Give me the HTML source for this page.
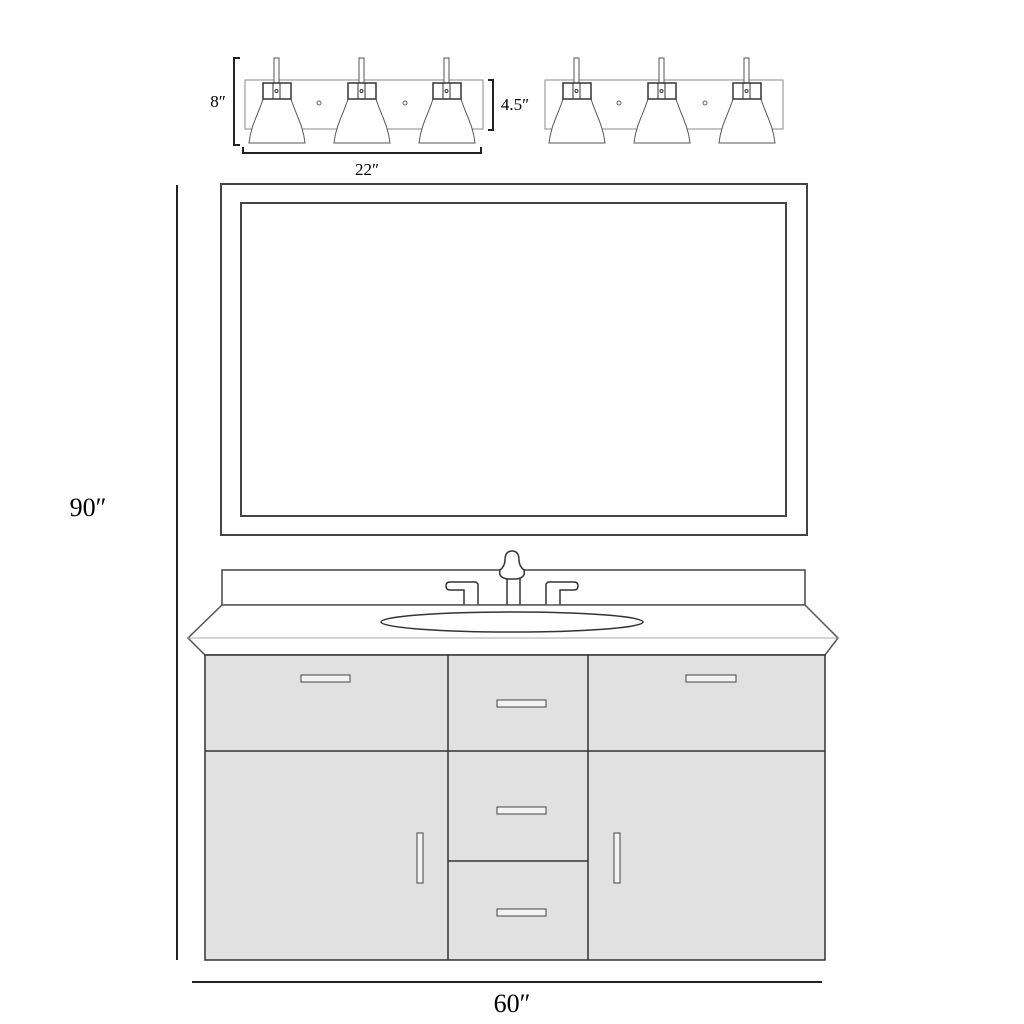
<!DOCTYPE html>
<html><head><style>html,body{margin:0;padding:0;background:#fff}svg{display:block}</style></head>
<body>
<svg width="1024" height="1024" viewBox="0 0 1024 1024" xmlns="http://www.w3.org/2000/svg" font-family="Liberation Serif, serif">
<rect width="1024" height="1024" fill="#fff"/>
<defs>
<g id="fix">
  <rect x="245" y="80" width="238" height="49" fill="#fff" stroke="#888" stroke-width="1"/>
  <circle cx="319" cy="103" r="2" fill="none" stroke="#666"/>
  <circle cx="405" cy="103" r="2" fill="none" stroke="#666"/>
  <g id="lamp">
    <rect x="274" y="58" width="5" height="26" fill="#fff" stroke="#555" stroke-width="1"/>
    <path d="M263,99 C258,115 251,125 249,143 L305,143 C303,125 296,115 291,99 Z" fill="#fff" stroke="#555" stroke-width="1"/>
    <rect x="263" y="83" width="28" height="16" fill="#fff" stroke="#333" stroke-width="1.5"/>
    <rect x="273" y="83" width="7" height="16" fill="none" stroke="#333" stroke-width="1"/>
    <circle cx="276.5" cy="91" r="1.5" fill="none" stroke="#333"/>
  </g>
  <use href="#lamp" x="85"/>
  <use href="#lamp" x="170"/>
</g>
</defs>
<use href="#fix"/>
<use href="#fix" x="300"/>
<!-- dimension brackets -->
<g stroke="#222" stroke-width="2" fill="none">
  <path d="M240,58 L234,58 L234,145 L240,145"/>
  <path d="M488,80 L493,80 L493,130 L488,130"/>
  <path d="M243,147 L243,153 L481,153 L481,147"/>
  <line x1="177" y1="185" x2="177" y2="960"/>
  <line x1="192" y1="982" x2="822" y2="982"/>
</g>
<text x="218" y="107" font-size="17" text-anchor="middle">8″</text>
<text x="515" y="110" font-size="17" text-anchor="middle">4.5″</text>
<text x="367" y="175" font-size="17" text-anchor="middle">22″</text>
<text x="88" y="516" font-size="26" text-anchor="middle">90″</text>
<text x="512" y="1012" font-size="26" text-anchor="middle">60″</text>
<!-- mirror -->
<rect x="221" y="184" width="586" height="351" fill="#fff" stroke="#444" stroke-width="2"/>
<rect x="241" y="203" width="545" height="313" fill="#fff" stroke="#444" stroke-width="2"/>
<!-- backsplash -->
<rect x="222" y="570" width="583" height="35" fill="#fff" stroke="#444" stroke-width="1.5"/>
<!-- faucet -->
<g fill="#fff" stroke="#333" stroke-width="1.5">
  <path d="M464,605 L464,590 L450,590 Q446,590 446,586 Q446,582 450,582 L476,582 L478,584 L478,605"/>
  <path d="M560,605 L560,590 L574,590 Q578,590 578,586 Q578,582 574,582 L548,582 L546,584 L546,605"/>
  <rect x="507" y="578" width="13" height="27"/>
  <path d="M512,551 Q519,551 519,560 Q519,566 524,570 Q526,578 516,579 L508,579 Q498,578 500,570 Q505,566 505,560 Q505,551 512,551 Z"/>
</g>
<!-- countertop -->
<path d="M222,605 L805,605 L838,638 L825,655 L205,655 L188,638 Z" fill="#fff" stroke="#555" stroke-width="1.5"/>
<line x1="188" y1="638" x2="838" y2="638" stroke="#aaa" stroke-width="1"/>
<ellipse cx="512" cy="622" rx="131" ry="10" fill="#fff" stroke="#333" stroke-width="1.5"/>
<!-- cabinet -->
<g stroke="#333" stroke-width="1.5" fill="#e1e1e1">
  <rect x="205" y="655" width="620" height="305"/>
  <line x1="205" y1="751" x2="825" y2="751"/>
  <line x1="448" y1="655" x2="448" y2="960"/>
  <line x1="588" y1="655" x2="588" y2="960"/>
  <line x1="448" y1="861" x2="588" y2="861"/>
</g>
<g fill="#f3f3f3" stroke="#444" stroke-width="1">
  <rect x="301" y="675" width="49" height="7"/>
  <rect x="686" y="675" width="50" height="7"/>
  <rect x="497" y="700" width="49" height="7"/>
  <rect x="497" y="807" width="49" height="7"/>
  <rect x="497" y="909" width="49" height="7"/>
  <rect x="417" y="833" width="6" height="50"/>
  <rect x="614" y="833" width="6" height="50"/>
</g>
</svg>
</body></html>
